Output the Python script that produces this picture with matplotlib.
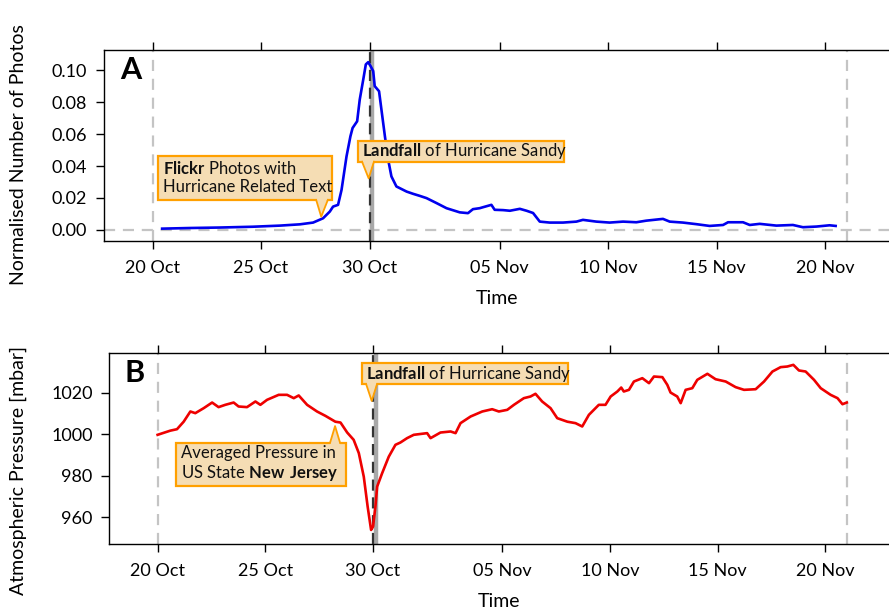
import matplotlib
matplotlib.use("Agg")
import matplotlib.pyplot as plt
from matplotlib.patches import Rectangle, Polygon

plt.rcParams['font.family'] = ['Lato', 'DejaVu Sans']
plt.rcParams['mathtext.fontset'] = 'custom'
plt.rcParams['mathtext.rm'] = 'Lato'
plt.rcParams['mathtext.bf'] = 'Lato:bold'

# ── data (x = days since 20 Oct 2012) ──
photo_days = [0.44, 1.72, 3.10, 4.62, 5.87, 6.79, 7.40, 7.86, 8.17, 8.32, 8.55, 8.71,
              8.94, 9.12, 9.22, 9.43, 9.55, 9.71, 9.83, 9.94, 10.05, 10.17, 10.24,
              10.44, 10.55, 10.71, 10.86, 11.01, 11.24, 11.71, 12.01, 12.32, 12.63,
              13.09, 13.55, 14.16, 14.54, 14.77, 15.08, 15.23, 15.62, 15.77, 16.16,
              16.47, 16.93, 17.24, 17.54, 17.85, 18.31, 18.92, 19.54, 19.84, 20.46,
              21.07, 21.69, 22.30, 22.76, 23.38, 23.53, 23.84, 24.45, 25.07, 25.68,
              26.30, 26.53, 27.22, 27.53, 27.99, 28.76, 29.52, 29.98, 30.60, 31.21, 31.49]
photo_vals = [0.0008, 0.0012, 0.0015, 0.0020, 0.0027, 0.0035, 0.0046, 0.0073, 0.0115,
              0.0146, 0.0157, 0.0250, 0.0460, 0.0586, 0.0638, 0.0680, 0.0816, 0.0940,
              0.1036, 0.1050, 0.1025, 0.0994, 0.0900, 0.0868, 0.0753, 0.0586, 0.0440,
              0.0335, 0.0272, 0.0240, 0.0226, 0.0213, 0.0199, 0.0168, 0.0136, 0.0110,
              0.0105, 0.0130, 0.0136, 0.0142, 0.0157, 0.0126, 0.0124, 0.0120, 0.0132,
              0.0120, 0.0106, 0.0052, 0.0046, 0.0046, 0.0052, 0.0063, 0.0052, 0.0046,
              0.0052, 0.0048, 0.0058, 0.0067, 0.0069, 0.0052, 0.0046, 0.0036, 0.0025,
              0.0031, 0.0048, 0.0048, 0.0031, 0.0038, 0.0027, 0.0031, 0.0017, 0.0021,
              0.0029, 0.0025]

pres_days = [0.00, 0.59, 0.90, 1.21, 1.52, 1.75, 2.14, 2.53, 2.83, 3.14, 3.53, 3.76,
             4.15, 4.54, 4.77, 5.08, 5.62, 6.01, 6.32, 6.55, 6.94, 7.40, 7.79, 8.25,
             8.49, 8.80, 9.10, 9.34, 9.57, 9.75, 9.91, 10.00, 10.11, 10.19, 10.42,
             10.73, 11.04, 11.27, 11.58, 11.89, 12.51, 12.67, 13.13, 13.60, 13.83,
             14.06, 14.53, 15.07, 15.53, 15.84, 16.23, 16.54, 17.00, 17.31, 17.54,
             17.85, 18.24, 18.55, 19.02, 19.40, 19.71, 20.02, 20.48, 20.79, 21.03,
             21.34, 21.52, 21.64, 21.88, 22.11, 22.50, 22.81, 23.04, 23.43, 23.66,
             23.81, 24.12, 24.28, 24.51, 24.82, 25.05, 25.52, 25.90, 26.37, 26.83,
             27.22, 27.76, 28.15, 28.54, 28.92, 29.23, 29.51, 29.77, 30.08, 30.47,
             30.78, 31.24, 31.56, 31.79, 31.99]
pres_vals = [999.7, 1001.7, 1002.4, 1006.0, 1010.9, 1010.1, 1012.5, 1015.2, 1013.0,
             1014.1, 1015.2, 1013.3, 1013.0, 1015.7, 1014.1, 1016.5, 1018.9, 1018.9,
             1017.3, 1018.6, 1014.1, 1010.9, 1008.8, 1006.0, 1005.6, 1000.8, 997.3,
             990.9, 979.6, 965.2, 954.0, 955.6, 965.2, 974.8, 981.2, 989.2, 994.9,
             996.0, 998.1, 999.7, 1000.5, 998.1, 1000.8, 1001.3, 1000.5, 1005.3,
             1008.5, 1010.9, 1012.0, 1010.9, 1011.7, 1014.1, 1017.3, 1018.1, 1019.4,
             1015.7, 1012.5, 1007.7, 1006.0, 1005.3, 1003.7, 1009.3, 1014.1, 1014.1,
             1018.1, 1020.5, 1022.4, 1020.5, 1021.3, 1025.3, 1026.9, 1024.5, 1027.7,
             1027.4, 1023.7, 1020.0, 1018.1, 1014.9, 1021.3, 1022.1, 1026.1, 1029.0,
             1026.4, 1025.3, 1022.6, 1021.3, 1021.6, 1025.3, 1030.1, 1032.2, 1032.5,
             1033.3, 1030.6, 1030.1, 1026.1, 1022.1, 1018.9, 1017.3, 1014.4, 1015.2]

tick_days   = [0, 5, 10, 16, 21, 26, 31]
tick_labels = ["20 Oct", "25 Oct", "30 Oct", "05 Nov", "10 Nov", "15 Nov", "20 Nov"]
photo_yticks = [0.00, 0.02, 0.04, 0.06, 0.08, 0.10]
pres_yticks  = [960, 980, 1000, 1020]

LANDFALL = 10.0
PERIOD   = [0, 32]

BOX_FC = "#F5DDB4"
BOX_EC = "#FFA000"
FS_BOX = 12
FS_TICK = 13
FS_LAB = 14


def callout(ax, x0, x1, y0, y1, bl, br, tip, text, down=True):
    # box + little pointer, all in axes fraction
    ax.add_patch(Rectangle((x0, y0), x1 - x0, y1 - y0, transform=ax.transAxes,
                           fc=BOX_FC, ec=BOX_EC, lw=1.6, zorder=6, clip_on=False))
    yb = y0 if down else y1
    inner = 0.012 if down else -0.012
    ax.add_patch(Polygon([(bl, yb + inner), (tip[0], tip[1]), (br, yb + inner)],
                         closed=True, transform=ax.transAxes, fc=BOX_FC, ec="none",
                         zorder=7, clip_on=False))
    ax.plot([bl, tip[0], br], [yb, tip[1], yb], transform=ax.transAxes,
            color=BOX_EC, lw=1.3, zorder=8, clip_on=False)
    ax.text(x0 + 0.006, (y0 + y1) / 2, text, transform=ax.transAxes, fontsize=FS_BOX,
            ha="left", va="center", linespacing=1.15, zorder=9, color="#111111")


def style(ax, ylabel, letter):
    ax.set_xlim(-2.24, 33.95)
    ax.set_xticks(tick_days)
    ax.set_xticklabels(tick_labels)
    ax.spines["right"].set_visible(False)
    for s in ["left", "top", "bottom"]:
        ax.spines[s].set_linewidth(1.0)
    ax.tick_params(direction="out", length=6, width=1.0, labelsize=FS_TICK, pad=6,
                   top=True, labeltop=False)
    ax.tick_params(axis="x", pad=8)
    ax.set_xlabel("Time", fontsize=FS_LAB, labelpad=10)
    ax.set_ylabel(ylabel, fontsize=FS_LAB)
    ax.text(0.02, 0.895, letter, transform=ax.transAxes, fontsize=22,
            fontweight="bold", va="center", ha="left")
    for d in PERIOD:
        ax.axvline(d, color="#C4C4C4", lw=1.6, ls=(0, (5, 3.5)), zorder=1)
    ax.axvline(LANDFALL + 0.12, color="#A8A8A8", lw=3.2, zorder=2)
    ax.axvline(LANDFALL, color="#333333", lw=1.6, ls=(0, (5, 3)), zorder=3)


fig = plt.figure(figsize=(8.89, 6.10), dpi=100)
axA = fig.add_axes([0.117, 0.605, 0.883, 0.313])
axB = fig.add_axes([0.123, 0.109, 0.877, 0.312])

# ── A : photos ──
style(axA, "Normalised Number of Photos", "A")
axA.axhline(0, color="#C4C4C4", lw=1.6, ls=(0, (5, 3.5)), zorder=1)
axA.plot(photo_days, photo_vals, color="#0000EE", lw=1.9, zorder=4)
axA.set_ylim(-0.0069, 0.1126)
axA.set_yticks(photo_yticks)
axA.set_yticklabels([f"{v:.2f}" for v in photo_yticks])
axA.yaxis.set_label_coords(-0.098, 0.455)

callout(axA, 0.0688, 0.2904, 0.2147, 0.445, 0.2703, 0.2851, (0.2767, 0.127),
        "$\\bf{Flickr}$ Photos with\nHurricane Related Text")
callout(axA, 0.3232, 0.5864, 0.4152, 0.5251, 0.3287, 0.3439, (0.3371, 0.328),
        "$\\bf{Landfall}$ of Hurricane Sandy")

# ── B : pressure ──
style(axB, "Atmospheric Pressure [mbar]", "B")
axB.plot(pres_days, pres_vals, color="#EE0000", lw=1.9, zorder=4)
axB.set_ylim(947.5, 1038.9)
axB.set_yticks(pres_yticks)
axB.yaxis.set_label_coords(-0.105, 0.385)

callout(axB, 0.3237, 0.5887, 0.8384, 0.9474, 0.3293, 0.3434, (0.3365, 0.749),
        "$\\bf{Landfall}$ of Hurricane Sandy")
callout(axB, 0.0855, 0.3036, 0.3032, 0.5295, 0.2831, 0.2959, (0.2895, 0.617),
        "Averaged Pressure in\nUS State $\\bf{New\\ Jersey}$", down=False)

fig.savefig("out.png", dpi=100)
